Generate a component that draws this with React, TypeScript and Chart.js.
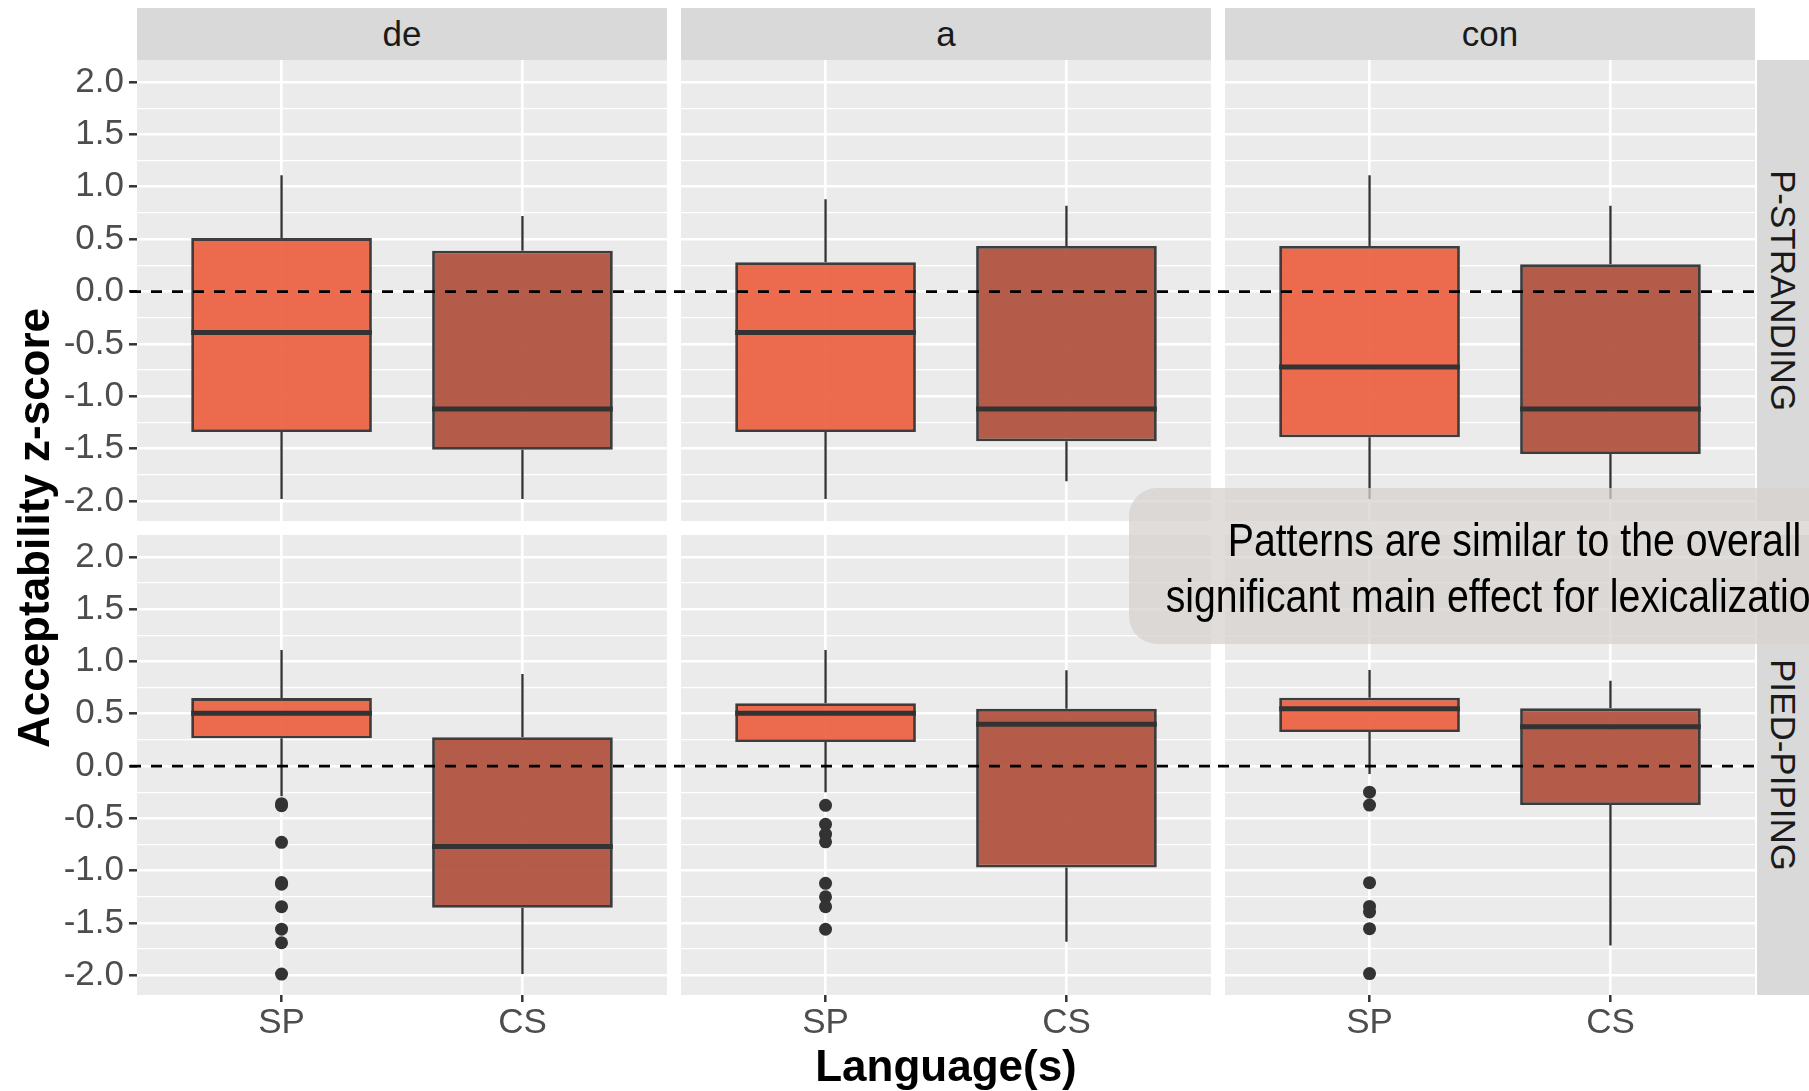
import React, { useEffect, useRef } from 'react';
import { Chart, registerables } from 'chart.js';

Chart.register(...registerables);

const FONT = '"Liberation Sans", Arial, Helvetica, sans-serif';
Chart.defaults.font.family = FONT;

// ---- categories / facets ----
const languages = ['SP', 'CS'];
const lexicalizations = ['de', 'a', 'con'];
const constructions = ['P-STRANDING', 'PIED-PIPING'];

// ---- y axis ----
const yTickValues = [-2, -1.75, -1.5, -1.25, -1, -0.75, -0.5, -0.25, 0, 0.25, 0.5, 0.75, 1, 1.25, 1.5, 1.75, 2];
const yLabelledTicks = [-2, -1.5, -1, -0.5, 0, 0.5, 1, 1.5, 2];
const yMin = -2.19;
const yMax = 2.21;
const referenceValue = 0;
const xExpand = 0.6;
const boxWidth = 0.75;

// ---- titles / text ----
const xAxisTitle = 'Language(s)';
const yAxisTitle = 'Acceptability z-score';
const annotationLines = ['Patterns are similar to the overall', 'significant main effect for lexicalization'];

// ---- five-number summaries: [lower whisker, Q1, median, Q3, upper whisker] ----
const strandingDeSP = [-1.98, -1.34, -0.39, 0.51, 1.11];
const strandingDeCS = [-1.98, -1.51, -1.12, 0.39, 0.72];
const strandingASP = [-1.98, -1.34, -0.39, 0.28, 0.88];
const strandingACS = [-1.81, -1.43, -1.12, 0.435, 0.82];
const strandingConSP = [-1.98, -1.39, -0.72, 0.435, 1.11];
const strandingConCS = [-1.98, -1.55, -1.12, 0.26, 0.82];
const piedDeSP = [-0.29, 0.265, 0.505, 0.65, 1.11];
const piedDeCS = [-1.99, -1.355, -0.77, 0.275, 0.88];
const piedASP = [-0.25, 0.23, 0.505, 0.6, 1.11];
const piedACS = [-1.68, -0.97, 0.4, 0.547, 0.916];
const piedConSP = [-0.075, 0.325, 0.549, 0.653, 0.918];
const piedConCS = [-1.716, -0.373, 0.377, 0.552, 0.817];

// ---- outliers ----
const noOutliers: number[] = [];
const piedDeSPOutliers = [-0.36, -0.38, -0.73, -1.115, -1.13, -1.345, -1.56, -1.69, -1.99];
const piedASPOutliers = [-0.376, -0.557, -0.652, -0.725, -1.122, -1.251, -1.345, -1.561];
const piedConSPOutliers = [-0.25, -0.373, -1.116, -1.343, -1.396, -1.556, -1.985];

// ---- colours ----
const boxColors = ['rgba(236,96,65,0.92)', 'rgba(175,78,60,0.92)'];
const inkColor = '#333333';
const panelBg = '#ebebeb';
const stripBg = '#d9d9d9';

const panelStats = [
  [[strandingDeSP, strandingDeCS], [strandingASP, strandingACS], [strandingConSP, strandingConCS]],
  [[piedDeSP, piedDeCS], [piedASP, piedACS], [piedConSP, piedConCS]],
];
const panelOutliers = [
  [[noOutliers, noOutliers], [noOutliers, noOutliers], [noOutliers, noOutliers]],
  [[piedDeSPOutliers, noOutliers], [piedASPOutliers, noOutliers], [piedConSPOutliers, noOutliers]],
];

// ---- layout ----
const colLeft = [137, 681, 1225];
const colWidth = 530;
const rowTop = [60, 535];
const rowHeight = [461, 460];
const stripTop = 8;
const stripSize = 52;
const rightStripLeft = 1757;
const EXT = 7;
const PAD_R = 16;
const PAD_V = 26;
const XAX = 56;
const YAX = 137;

const isMajor = (v: number) => yLabelledTicks.some((t) => Math.abs(t - v) < 1e-6);

function Panel({ r, c }: { r: number; c: number }) {
  const ref = useRef<HTMLCanvasElement>(null);
  const leftExt = c === 0 ? YAX : EXT;
  const lineExtRight = c === 2 ? 0 : EXT;
  const left = colLeft[c] - leftExt;
  const width = leftExt + colWidth + PAD_R;
  const top = rowTop[r] - PAD_V;
  const height = PAD_V + rowHeight[r] + (r === 0 ? PAD_V : XAX);

  useEffect(() => {
    const stats = panelStats[r][c];
    const outs = panelOutliers[r][c];
    const xs = languages.map((_, i) => i + 1);

    const boxData = stats.map((s, i) => ({ x: xs[i], y: [s[1], s[3]] }));
    const whiskerData: any[] = [];
    stats.forEach((s, i) => {
      whiskerData.push(
        { x: xs[i], y: s[0] }, { x: xs[i], y: s[1] }, { x: xs[i], y: null },
        { x: xs[i], y: s[3] }, { x: xs[i], y: s[4] }, { x: xs[i], y: null }
      );
    });
    const medianData: any[] = [];
    stats.forEach((s, i) => {
      medianData.push({ x: xs[i] - boxWidth / 2, y: s[2] }, { x: xs[i] + boxWidth / 2, y: s[2] }, { x: xs[i], y: null });
    });
    const outlierData: any[] = [];
    outs.forEach((arr, i) => arr.forEach((v) => outlierData.push({ x: xs[i], y: v })));

    const bgPlugin = {
      id: 'panelBg',
      beforeDraw(chart: any) {
        const { ctx, chartArea: a } = chart;
        ctx.save();
        ctx.fillStyle = panelBg;
        ctx.fillRect(a.left, a.top, a.right - a.left, a.bottom - a.top);
        ctx.restore();
      },
    };
    const refLinePlugin = {
      id: 'refLine',
      afterDatasetsDraw(chart: any) {
        const { ctx, chartArea: a } = chart;
        const y = chart.scales.y.getPixelForValue(referenceValue);
        ctx.save();
        ctx.strokeStyle = '#000';
        ctx.lineWidth = 2.8;
        ctx.setLineDash([11, 10]);
        ctx.beginPath();
        ctx.moveTo(a.left - EXT, y);
        ctx.lineTo(a.right + lineExtRight, y);
        ctx.stroke();
        ctx.restore();
      },
    };

    const chart = new Chart(ref.current as HTMLCanvasElement, {
      type: 'bar',
      data: {
        datasets: [
          {
            type: 'line',
            data: whiskerData,
            borderColor: inkColor,
            borderWidth: 2.3,
            pointRadius: 0,
            spanGaps: false,
            order: 5,
          } as any,
          {
            type: 'bar',
            data: boxData,
            backgroundColor: boxColors,
            borderColor: 'rgba(51,51,51,0.95)',
            borderWidth: 2.8,
            borderSkipped: false,
            barPercentage: boxWidth,
            categoryPercentage: 1,
            order: 4,
          } as any,
          {
            type: 'line',
            data: medianData,
            borderColor: inkColor,
            borderWidth: 5,
            pointRadius: 0,
            spanGaps: false,
            borderCapStyle: 'butt',
            order: 3,
          } as any,
          {
            type: 'line',
            data: outlierData,
            showLine: false,
            pointRadius: 6.5,
            pointBackgroundColor: inkColor,
            pointBorderWidth: 0,
            order: 2,
          } as any,
        ],
      },
      options: {
        animation: false,
        responsive: false,
        devicePixelRatio: 1,
        layout: { padding: { top: PAD_V, bottom: r === 0 ? PAD_V : 0, left: c === 0 ? 0 : EXT, right: PAD_R } },
        plugins: { legend: { display: false }, tooltip: { enabled: false } },
        scales: {
          x: {
            type: 'linear',
            min: 1 - xExpand,
            max: languages.length + xExpand,
            offset: false,
            border: { display: false },
            grid: {
              offset: false,
              color: '#ffffff',
              lineWidth: 2.6,
              drawTicks: r === 1,
              tickLength: 7,
              tickWidth: 2.5,
              tickColor: inkColor,
            },
            ticks: {
              display: r === 1,
              autoSkip: false,
              maxRotation: 0,
              font: { size: 35, lineHeight: 1 },
              color: '#4d4d4d',
              padding: 4,
              callback: (v: any) => languages[Math.round(Number(v)) - 1] ?? '',
            },
            afterBuildTicks: (s: any) => {
              s.ticks = xs.map((v) => ({ value: v }));
            },
            afterFit: (s: any) => {
              s.height = r === 0 ? 0 : XAX;
            },
          },
          y: {
            type: 'linear',
            min: yMin,
            max: yMax,
            border: { display: false },
            grid: {
              color: '#ffffff',
              lineWidth: (ctx: any) => (ctx.tick && isMajor(ctx.tick.value) ? 2.6 : 1.3),
              drawTicks: c === 0,
              tickLength: 8,
              tickWidth: 2.5,
              tickColor: (ctx: any) => (ctx.tick && isMajor(ctx.tick.value) ? inkColor : 'rgba(0,0,0,0)'),
            },
            ticks: {
              display: c === 0,
              autoSkip: false,
              font: { size: 35, lineHeight: 1 },
              color: '#4d4d4d',
              padding: 5,
              callback: (v: any) => (isMajor(Number(v)) ? Number(v).toFixed(1) : ''),
            },
            afterBuildTicks: (s: any) => {
              s.ticks = yTickValues.map((v) => ({ value: v }));
            },
            afterFit: (s: any) => {
              s.width = c === 0 ? YAX : 0;
            },
          },
        },
      } as any,
      plugins: [bgPlugin, refLinePlugin],
    });
    return () => chart.destroy();
  }, []);

  return (
    <canvas
      ref={ref}
      width={width}
      height={height}
      style={{ position: 'absolute', left, top, width, height }}
    />
  );
}

export default function App() {
  return (
    <div
      style={{
        position: 'fixed',
        left: 0,
        top: 0,
        width: 1809,
        height: 1091,
        overflow: 'hidden',
        background: '#ffffff',
        fontFamily: FONT,
      }}
    >
      {lexicalizations.map((lab, c) => (
        <div
          key={'top' + c}
          style={{
            position: 'absolute',
            left: colLeft[c],
            top: stripTop,
            width: colWidth,
            height: stripSize,
            background: stripBg,
            color: '#1a1a1a',
            fontSize: 35,
            lineHeight: stripSize + 'px',
            textAlign: 'center',
          }}
        >
          {lab}
        </div>
      ))}
      {constructions.map((lab, r) => (
        <div
          key={'right' + r}
          style={{
            position: 'absolute',
            left: rightStripLeft,
            top: rowTop[r],
            width: stripSize,
            height: rowHeight[r],
            background: stripBg,
            color: '#1a1a1a',
            fontSize: 35,
            display: 'flex',
            alignItems: 'center',
            justifyContent: 'center',
          }}
        >
          <span style={{ writingMode: 'vertical-rl', lineHeight: stripSize + 'px' }}>{lab}</span>
        </div>
      ))}
      {constructions.map((_, r) =>
        lexicalizations.map((__, c) => <Panel key={r + '-' + c} r={r} c={c} />)
      )}
      <div
        style={{
          position: 'absolute',
          left: 946 - 300,
          top: 1041,
          width: 600,
          height: 50,
          lineHeight: '50px',
          textAlign: 'center',
          fontWeight: 'bold',
          fontSize: 44,
          color: '#000',
        }}
      >
        {xAxisTitle}
      </div>
      <div
        style={{
          position: 'absolute',
          left: 34 - 300,
          top: 527.5 - 25,
          width: 600,
          height: 50,
          lineHeight: '50px',
          textAlign: 'center',
          fontWeight: 'bold',
          fontSize: 44,
          color: '#000',
          transform: 'rotate(-90deg)',
          transformOrigin: '50% 50%',
        }}
      >
        {yAxisTitle}
      </div>
      <div
        style={{
          position: 'absolute',
          left: 1129,
          top: 488,
          width: 771,
          height: 156,
          borderRadius: 28,
          background: 'rgba(214,210,206,0.75)',
        }}
      >
        {annotationLines.map((line, i) => (
          <div
            key={i}
            style={{
              position: 'absolute',
              left: i === 0 ? 0 : -20,
              top: 24 + i * 56,
              width: 771,
              height: 56,
              lineHeight: '56px',
              fontSize: 46,
              color: '#000',
              textAlign: 'center',
              whiteSpace: 'nowrap',
              transform: 'scaleX(0.853)',
              transformOrigin: '50% 50%',
            }}
          >
            {line}
          </div>
        ))}
      </div>
    </div>
  );
}
